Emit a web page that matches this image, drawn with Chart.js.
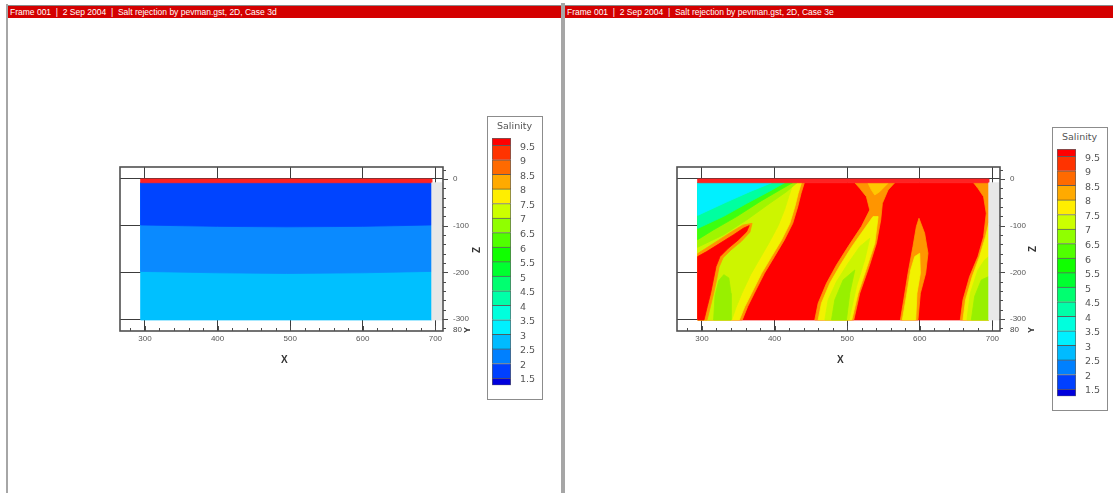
<!DOCTYPE html>
<html>
<head>
<meta charset="utf-8">
<script src="https://cdn.jsdelivr.net/npm/chart.js@4.4.0/dist/chart.umd.min.js"></script>
<style>
html, body { margin: 0; padding: 0; background: #fff; }
body { width: 1113px; height: 493px; position: relative; overflow: hidden; font-family: "Liberation Sans", Arial, sans-serif; }
.line { position: absolute; background: #a6a6a6; }
.hdr { position: absolute; top: 5px; height: 13px; background: #d40000; color: #fff; font-size: 8.5px; line-height: 13px;
       padding-left: 2px; white-space: pre; overflow: hidden; box-sizing: border-box; border-top: 1px solid #8a8a8a; }
.lbl { position: absolute; color: #333; font-weight: bold; font-size: 10px; line-height: 10px; }
.small { position: absolute; color: #444; font-size: 8px; line-height: 8px; }
.rot { transform: rotate(-90deg); transform-origin: center center; }
.legbox { position: absolute; width: 56px; height: 284px; border: 1px solid #8c8c8c; box-sizing: border-box; }
.legtitle { position: absolute; font-family: "DejaVu Sans", sans-serif; font-size: 9.5px; line-height: 10px; color: #555; }
canvas { position: absolute; }
</style>
</head>
<body>

<div class="line" style="left:6px;top:4px;width:2px;height:489px;"></div>
<div class="line" style="left:561px;top:3px;width:4px;height:490px;"></div>
<div class="hdr" style="left:8px;width:553px;">Frame 001  |  2 Sep 2004  |  Salt rejection by pevman.gst, 2D, Case 3d</div>
<div class="hdr" style="left:565px;width:548px;">Frame 001  |  2 Sep 2004  |  Salt rejection by pevman.gst, 2D, Case 3e</div>

<canvas id="plotD" width="380" height="230" style="left:100px;top:150px;"></canvas>
<canvas id="plotE" width="380" height="230" style="left:657px;top:150px;"></canvas>

<div class="lbl" style="left:281px;top:355px;">X</div>
<div class="lbl" style="left:837px;top:355px;">X</div>
<div class="lbl rot" style="left:474px;top:245px;">Z</div>
<div class="lbl rot" style="left:1030px;top:244px;">Z</div>
<div class="small" style="left:453px;top:326px;">80</div>
<div class="small" style="left:1010px;top:326px;">80</div>
<div class="lbl rot" style="left:464px;top:325px;font-size:9px;">Y</div>
<div class="lbl rot" style="left:1028px;top:325px;font-size:9px;">Y</div>

<div class="legbox" style="left:487px;top:116px;"></div>
<div class="legtitle" style="left:497px;top:121px;">Salinity</div>
<canvas id="legD" width="56" height="284" style="left:487px;top:116px;"></canvas>

<div class="legbox" style="left:1052px;top:127px;"></div>
<div class="legtitle" style="left:1062px;top:132px;">Salinity</div>
<canvas id="legE" width="56" height="284" style="left:1052px;top:127px;"></canvas>

<script>
// --- axis ticks and legend levels ---
const xTickValues = [300, 400, 500, 600, 700];
const zTickValues = [0, -100, -200, -300];
const legendLevels = [1.5, 2, 2.5, 3, 3.5, 4, 4.5, 5, 5.5, 6, 6.5, 7, 7.5, 8, 8.5, 9, 9.5];
// one colour per band, from below 1.5 up to above 9.5
const legendColors = ['#0000dd', '#0040ff', '#0080ff', '#00bbff', '#00f0ff', '#00ffdd', '#00ffa8', '#00ff70', '#00ff30',
                      '#10ff00', '#50ff00', '#90ff00', '#ccff00', '#ffee00', '#ffaa00', '#ff6a00', '#ff3300', '#ff0000'];

// --- contour regions, [x, z] in model units ---
// Case 3d: layered salinity
const dBandLow = [[294, -8], [695, -8], [695, -302], [294, -302]];
const dBandMid = [[294, -8], [695, -8], [695, -198], [600, -201], [495, -202.5], [400, -201], [294, -198]];
const dBandTop = [[294, -8], [695, -8], [695, -98.5], [600, -101.5], [495, -102.5], [400, -101.5], [294, -98.5]];
const surfaceStrip = [[294, 0], [695, 0], [695, -8], [294, -8]];
const sideStrip = [[695, -8], [709, -8], [709, -302], [695, -302]];

// Case 3e: fingering
const eBase = [[294, -8], [695, -8], [695, -302], [294, -302]];
const eLeftOrange = [[294, -8], [441, -8], [436.5, -30.7], [432, -59], [425, -95], [413.5, -130.6], [400, -166], [386, -202], [372, -245], [363, -273], [355.5, -302], [294, -302]];
const eLeftYellow = [[294, -8], [437, -8], [432.5, -30.7], [428, -59], [421, -95], [409.6, -130.6], [395.8, -166.3], [382, -202], [368.3, -244.8], [359, -273.4], [351.4, -302], [294, -302]];
const eLeftYG = [[294, -8], [426, -8], [420, -35], [414, -65], [405, -100], [393, -135], [380, -170], [367, -205], [355, -245], [347, -275], [341, -302], [294, -302]];
const eTLLight = [[294, -8], [431, -8], [416.5, -27.1], [393.5, -52.1], [361.5, -87.8], [329.3, -119.9], [294, -146.3]];
const eTLGreen = [[294, -8], [424.7, -8], [407.3, -23.6], [379.8, -48.5], [347.7, -80.6], [315.6, -109.2], [294, -130]];
const eTLTeal = [[294, -8], [414, -8], [392, -27.1], [362, -52.1], [330, -80], [294, -106]];
const eTLCyan = [[294, -8], [396, -8], [366, -27.1], [333, -50], [294, -78]];
const eFingerRim = [[294, -160], [305, -149], [323, -131], [341, -113], [356, -99], [369, -95], [366, -114], [354, -134], [340, -152], [329, -169], [323.5, -189], [320, -217], [316, -245], [311.5, -274], [307, -302], [294, -302]];
const eFinger = [[294, -166.3], [306.4, -155.6], [324.8, -137.8], [343.1, -119.9], [356.9, -105.6], [365.1, -99.9], [361.5, -112.8], [350, -130.6], [336.2, -148.5], [324.8, -166.3], [319.3, -187.7], [315.6, -216.3], [311.9, -244.8], [307.3, -273.4], [302.8, -302], [294, -302]];
const eBlob = [[316, -302], [318, -250], [323, -218], [330, -205], [337, -212], [340, -245], [340, -302]];
const eMidOrange = [[510.5, -8], [565.5, -8], [556.3, -23.6], [548.5, -52.1], [546.2, -87.8], [540.3, -137.8], [530.2, -187.7], [517.3, -244.8], [509.1, -302], [455.4, -302], [460, -266.2], [471.5, -223.4], [485.3, -184.2], [501.3, -144.9], [519.6, -102], [531.1, -66.4], [526.5, -37.8], [517.3, -20]];
const eMidCap = [[528.8, -9], [556.3, -9], [544.8, -27.1], [538, -34.3], [533.4, -23.6]];
const eMidYellow = [[542.6, -80.6], [538, -137.8], [527.4, -187.7], [515, -244.8], [506.3, -302], [460, -302], [464.6, -266.2], [476.1, -223.4], [489.8, -186.3], [505.9, -146.3], [524.2, -105.6], [535.6, -80.6]];
const eMidYG = [[531.1, -127], [524.2, -173.4], [512.8, -230.5], [502.6, -302], [469.2, -302], [473.7, -259.1], [485.3, -219.9], [501.3, -180.6], [517.3, -144.9]];
const eMidGreen = [[510.5, -194.9], [503.6, -244.8], [499, -302], [478.4, -302], [482.9, -259.1], [494.4, -216.3]];
const eThirdOrange = [[598.9, -84.2], [606.7, -116.3], [611.3, -159.2], [608.1, -202], [600.8, -244.8], [597.5, -302], [573.3, -302], [577.9, -259.1], [583.8, -202], [590.6, -144.9], [595.3, -102]];
const eThirdYellow = [[599.9, -159.2], [600.8, -202], [596.1, -244.8], [594.4, -302], [576, -302], [581.6, -251.9], [587.5, -194.9], [593, -166.3]];
const eRightOrange = [[674.1, -8], [695, -8], [695, -302], [655.8, -302], [659.5, -259.1], [668.6, -209.1], [680.1, -166.3], [687.9, -123.5], [691.6, -73.5], [687.9, -37.8], [680.1, -20]];
const eRightYellow = [[695, -94.9], [695, -302], [659.5, -302], [663.1, -259.1], [672.3, -209.1], [682.4, -166.3], [690.6, -123.5]];
const eRightYG = [[695, -166.3], [695, -302], [664.9, -302], [669.6, -244.8], [680.1, -194.9], [689.3, -173.4]];
const eRightGreen = [[695, -209.1], [695, -302], [671, -302], [675.5, -251.9], [684.7, -216.3]];

// axis window of the plot box
const X_MIN = 265.6, X_MAX = 710.5;
const Z_MIN = -325.7, Z_MAX = 25.7;
const MINOR = 20;

// box outline and minor ticks, like the tecplot frame
const tecplotBox = {
    id: 'tecplotBox',
    afterDraw(chart) {
        const { ctx, chartArea: a, scales: { x, y } } = chart;
        ctx.save();
        ctx.strokeStyle = '#4a4a4a';
        ctx.lineWidth = 1;
        ctx.beginPath();
        for (let v = Math.ceil(X_MIN / MINOR) * MINOR; v <= X_MAX; v += MINOR) {
            const px = Math.round(x.getPixelForValue(v)) + 0.5;
            ctx.moveTo(px, a.bottom);
            ctx.lineTo(px, a.bottom - (v % 100 === 0 ? 5 : 3));
        }
        for (let v = Math.floor(Z_MAX / MINOR) * MINOR; v >= Z_MIN; v -= MINOR) {
            const py = Math.round(y.getPixelForValue(v)) + 0.5;
            ctx.moveTo(a.right, py);
            ctx.lineTo(a.right + (v % 100 === 0 ? 5 : 3), py);
        }
        ctx.stroke();
        ctx.lineWidth = 1.6;
        ctx.strokeStyle = '#505050';
        ctx.strokeRect(a.left, a.top, a.right - a.left, a.bottom - a.top);
        ctx.restore();
    }
};

function anillo(pts) {
    const out = pts.map(([x, z]) => ({ x: x, y: z }));
    out.push({ x: pts[0][0], y: pts[0][1] });
    return out;
}

function contourChart(id, capas) {
    const datasets = capas.map(([pts, color], i) => ({
        data: anillo(pts),
        showLine: true,
        fill: 'shape',
        backgroundColor: color,
        borderColor: color,
        borderWidth: 0.8,
        pointRadius: 0,
        pointHoverRadius: 0,
        tension: 0,
        order: capas.length - i
    }));
    const tickFont = { family: 'Liberation Sans', size: 8 };
    return new Chart(document.getElementById(id), {
        type: 'scatter',
        data: { datasets: datasets },
        plugins: [tecplotBox],
        options: {
            responsive: false,
            animation: false,
            events: [],
            layout: { padding: { left: 20, top: 17, right: 0, bottom: 29 } },
            plugins: { legend: { display: false }, tooltip: { enabled: false } },
            scales: {
                x: {
                    type: 'linear', min: X_MIN, max: X_MAX,
                    afterBuildTicks: s => { s.ticks = xTickValues.map(v => ({ value: v })); },
                    afterFit: s => { s.height = 20; },
                    grid: { color: '#3c3c3c', lineWidth: 1, drawTicks: false },
                    border: { display: false },
                    ticks: { padding: 3, color: '#555', font: tickFont, maxRotation: 0, callback: v => String(v) }
                },
                y: {
                    type: 'linear', position: 'right', min: Z_MIN, max: Z_MAX,
                    afterBuildTicks: s => { s.ticks = zTickValues.map(v => ({ value: v })); },
                    afterFit: s => { s.width = 37; },
                    grid: { color: '#3c3c3c', lineWidth: 1, drawTicks: false },
                    border: { display: false },
                    ticks: { padding: 10, color: '#555', font: tickFont, callback: v => String(v) }
                }
            }
        }
    });
}

function legendChart(id) {
    const bordes = [1.25].concat(legendLevels, [9.75]);
    const datasets = legendColors.map((color, i) => ({
        data: [[bordes[i], bordes[i + 1]]],
        backgroundColor: color,
        borderColor: 'rgba(45,45,45,0.75)',
        borderWidth: { top: 1, left: 1, right: 1, bottom: i === 0 ? 1 : 0 },
        borderSkipped: false,
        barPercentage: 1,
        categoryPercentage: 1
    }));
    return new Chart(document.getElementById(id), {
        type: 'bar',
        data: { labels: [''], datasets: datasets },
        options: {
            responsive: false,
            animation: false,
            events: [],
            layout: { padding: { left: 5, top: 22, right: 0, bottom: 12 } },
            plugins: { legend: { display: false }, tooltip: { enabled: false } },
            scales: {
                x: { display: false, stacked: true },
                y: {
                    position: 'right', min: bordes[0], max: bordes[bordes.length - 1],
                    afterBuildTicks: s => { s.ticks = legendLevels.map(v => ({ value: v })); },
                    afterFit: s => { s.width = 32; },
                    grid: { display: false, drawTicks: false },
                    border: { display: false },
                    ticks: { autoSkip: false, padding: 9, labelOffset: 2, color: '#555',
                             font: { family: 'DejaVu Sans', size: 9.5 }, callback: v => String(v) }
                }
            }
        }
    });
}

contourChart('plotD', [
    [dBandLow, '#00c0ff'],
    [dBandMid, '#0a8aff'],
    [dBandTop, '#0044ff'],
    [surfaceStrip, '#ff2222'],
    [sideStrip, '#e8e8e8']
]);

contourChart('plotE', [
    [eBase, '#ff0000'],
    [eLeftOrange, '#ff9500'],
    [eLeftYellow, '#f2f200'],
    [eLeftYG, '#cdf500'],
    [eTLLight, '#a0f500'],
    [eTLGreen, '#3cff10'],
    [eTLTeal, '#00ffa0'],
    [eTLCyan, '#00f0ff'],
    [eFingerRim, '#ff9500'],
    [eFinger, '#ff0000'],
    [eBlob, '#98f000'],
    [eMidOrange, '#ff9500'],
    [eMidCap, '#ffc800'],
    [eMidYellow, '#f2f200'],
    [eMidYG, '#cdf500'],
    [eMidGreen, '#98f000'],
    [eThirdOrange, '#ff9500'],
    [eThirdYellow, '#f2f200'],
    [eRightOrange, '#ff9500'],
    [eRightYellow, '#f2f200'],
    [eRightYG, '#cdf500'],
    [eRightGreen, '#98f000'],
    [surfaceStrip, '#ff2222'],
    [sideStrip, '#e8e8e8']
]);

legendChart('legD');
legendChart('legE');
</script>
</body>
</html>
